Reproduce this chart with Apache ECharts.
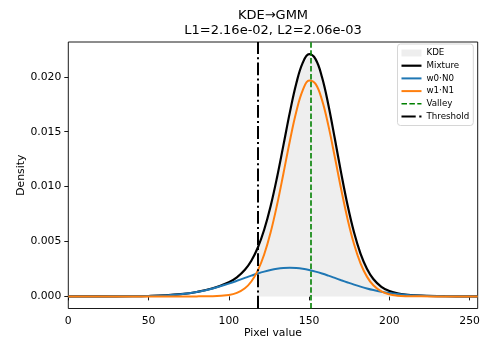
<!DOCTYPE html>
<html><head><meta charset="utf-8">
<script src="https://cdn.jsdelivr.net/npm/echarts@6/dist/echarts.min.js"></script>
<style>html,body{margin:0;padding:0;background:#fff}#c{width:482px;height:342px}</style>
</head><body><div id="c"></div>
<script>
const titleLines = ['KDE\u2192GMM', 'L1=2.16e-02, L2=2.06e-03'];
const xAxisName = 'Pixel value';
const yAxisName = 'Density';
const seriesNames = ['KDE', 'Mixture', 'w0\u00b7N0', 'w1\u00b7N1', 'Valley', 'Threshold'];

const xValues = [0, 20, 40, 50, 60, 70, 80, 90, 100, 105, 110, 114, 118, 122, 126, 130, 134, 138, 142, 146, 150, 154, 158, 162, 166, 170, 174, 178, 182, 186, 190, 195, 200, 205, 210, 220, 235, 255];
const mixture = [0, 0.000001, 0.0000125, 0.0000352, 0.0000885, 0.000199, 0.000402, 0.000737, 0.001289, 0.001736, 0.002421, 0.003247, 0.00443, 0.006067, 0.008212, 0.010834, 0.013777, 0.016762, 0.019395, 0.021271, 0.022062, 0.021612, 0.019983, 0.017441, 0.014377, 0.011206, 0.008277, 0.005813, 0.003903, 0.002523, 0.001589, 0.000877, 0.000488, 0.000281, 0.000168, 0.000064, 0.000014, 0.000001];
const w0N0 = [0, 0.000001, 0.0000125, 0.0000352, 0.0000885, 0.000199, 0.000401, 0.000723, 0.001166, 0.00142, 0.001682, 0.001888, 0.002082, 0.002255, 0.0024, 0.002509, 0.002577, 0.0026, 0.002577, 0.002509, 0.0024, 0.002255, 0.002082, 0.001888, 0.001682, 0.001472, 0.001266, 0.001069, 0.000887, 0.000723, 0.000579, 0.000428, 0.000307, 0.000215, 0.000146, 0.000062, 0.000014, 0.000001];
const w1N1 = [0, 0, 0, 0, 0, 0, 0.000001, 0.0000138, 0.000123, 0.000316, 0.000739, 0.001359, 0.002348, 0.003812, 0.005812, 0.008325, 0.0112, 0.014162, 0.016818, 0.018762, 0.019662, 0.019357, 0.017901, 0.015553, 0.012695, 0.009734, 0.007011, 0.004744, 0.003016, 0.0018, 0.00101, 0.000449, 0.000181, 0.0000663, 0.000022, 0.0000018, 0, 0];

const kdeX = [0, 117.6, 117.7, 122, 126, 130, 134, 138, 142, 146, 150, 154, 158, 162, 166, 170, 174, 178, 182, 186, 190, 195, 200, 205, 207.5, 207.6, 255];
const kdeY = [0, 0, 0.0042, 0.0060, 0.0081, 0.0107, 0.0136, 0.0166, 0.0192, 0.0211, 0.0219, 0.0215, 0.0199, 0.0174, 0.0143, 0.0111, 0.0082, 0.0057, 0.0038, 0.0024, 0.0015, 0.0008, 0.00045, 0.00026, 0.0002, 0, 0];

const valleyX = 150.8;
const thresholdX = 117.7;

const xTicks = [0, 50, 100, 150, 200, 250];
const yTicks = [0, 0.005, 0.010, 0.015, 0.020];
const xRange = [0, 255];
const yRange = [-0.0011035, 0.0231735];

const FONT = '"DejaVu Sans", "Liberation Sans", sans-serif';
const pairs = (xs, ys) => xs.map((x, i) => [x, ys[i]]);

const chart = echarts.init(document.getElementById('c'), null, {renderer: 'canvas', width: 482, height: 342});

const lineSeries = (name, ys, color, width) => ({
  name, type: 'line', data: pairs(xValues, ys), showSymbol: false, symbol: 'none',
  smooth: 0.4,
  lineStyle: {color, width}, itemStyle: {color}, emphasis: {disabled: true}
});

const vline = (name, x, color, width, type) => ({
  name, type: 'line', data: [], symbol: 'none',
  lineStyle: {color, width, type}, itemStyle: {color},
  markLine: {
    silent: true, symbol: ['none', 'none'], animation: false,
    label: {show: false},
    lineStyle: {color, width, type},
    emphasis: {disabled: true},
    data: [{xAxis: x}]
  }
});

// legend handle shapes (drawn as filled paths so they render as plain line samples)
const ICON_SOLID_THICK = 'path://M0,0h20v2.2h-20z';
const ICON_SOLID = 'path://M0,0h20v2h-20z';
const ICON_DASHED = 'path://M0,0h5.5v1.6h-5.5zM7.9,0h5.5v1.6h-5.5zM15.8,0h4.2v1.6h-4.2z';
const ICON_DASHDOT = 'path://M0,0h12.8v2h-12.8zM16,0h2v2h-2z';

chart.setOption({
  animation: false,
  backgroundColor: '#fff',
  textStyle: {fontFamily: FONT},
  grid: {left: 68.3, right: 4.3, top: 42, bottom: 33.5, show: true, borderColor: '#000', borderWidth: 0.9, containLabel: false, outerBoundsMode: 'none'},
  graphic: [
    {type: 'text', x: 273, y: 16, silent: true,
     style: {text: titleLines[0], textAlign: 'center', textVerticalAlign: 'middle', font: '13px ' + FONT, fill: '#000'}},
    {type: 'text', x: 273, y: 31, silent: true,
     style: {text: titleLines[1], textAlign: 'center', textVerticalAlign: 'middle', font: '13px ' + FONT, fill: '#000'}}
  ],
  legend: {
    orient: 'vertical', right: 8.7, top: 44, selectedMode: false,
    backgroundColor: '#fff', borderColor: '#d6d6d6', borderWidth: 1, borderRadius: 3,
    padding: [4, 4, 4, 4], itemWidth: 20, itemHeight: 7, itemGap: 2.7,
    symbolKeepAspect: true,
    textStyle: {fontFamily: FONT, fontSize: 8.7, color: '#000', lineHeight: 10},
    data: [
      {name: seriesNames[0], icon: 'rect', itemStyle: {color: '#eeeeee'}},
      {name: seriesNames[1], icon: ICON_SOLID_THICK, itemStyle: {color: '#000000'}},
      {name: seriesNames[2], icon: ICON_SOLID, itemStyle: {color: '#1f77b4'}},
      {name: seriesNames[3], icon: ICON_SOLID, itemStyle: {color: '#ff7f0e'}},
      {name: seriesNames[4], icon: ICON_DASHED, itemStyle: {color: '#008000'}},
      {name: seriesNames[5], icon: ICON_DASHDOT, itemStyle: {color: '#000000'}}
    ]
  },
  xAxis: {
    type: 'value', min: xRange[0], max: xRange[1],
    name: xAxisName, nameLocation: 'middle', nameGap: 19, nameMoveOverlap: false,
    nameTextStyle: {fontFamily: FONT, fontSize: 10.8, color: '#000'},
    axisLine: {show: false},
    axisTick: {show: true, inside: false, length: 4, lineStyle: {color: '#000', width: 0.9}, customValues: xTicks},
    axisLabel: {show: true, margin: 7, fontFamily: FONT, fontSize: 10.8, color: '#000', customValues: xTicks, formatter: v => String(v)},
    splitLine: {show: false}
  },
  yAxis: {
    type: 'value', min: yRange[0], max: yRange[1],
    name: yAxisName, nameLocation: 'middle', nameGap: 42, nameMoveOverlap: false,
    nameTextStyle: {fontFamily: FONT, fontSize: 10.8, color: '#000'},
    axisLine: {show: false},
    axisTick: {show: true, inside: false, length: 4, lineStyle: {color: '#000', width: 0.9}, customValues: yTicks},
    axisLabel: {show: true, margin: 7, fontFamily: FONT, fontSize: 10.8, color: '#000', customValues: yTicks, formatter: v => v.toFixed(3)},
    splitLine: {show: false}
  },
  series: [
    {name: seriesNames[0], type: 'line', data: pairs(kdeX, kdeY), showSymbol: false, symbol: 'none',
     lineStyle: {width: 0, color: '#eeeeee'}, itemStyle: {color: '#eeeeee'},
     areaStyle: {color: '#eeeeee', opacity: 1, origin: 0}, emphasis: {disabled: true}},
    lineSeries(seriesNames[1], mixture, '#000000', 2.2),
    lineSeries(seriesNames[2], w0N0, '#1f77b4', 2),
    lineSeries(seriesNames[3], w1N1, '#ff7f0e', 2),
    vline(seriesNames[4], valleyX, '#008000', 1.6, [5.5, 2.4]),
    vline(seriesNames[5], thresholdX, '#000000', 2, [12.8, 3.2, 2, 3.2])
  ]
});
</script></body></html>
